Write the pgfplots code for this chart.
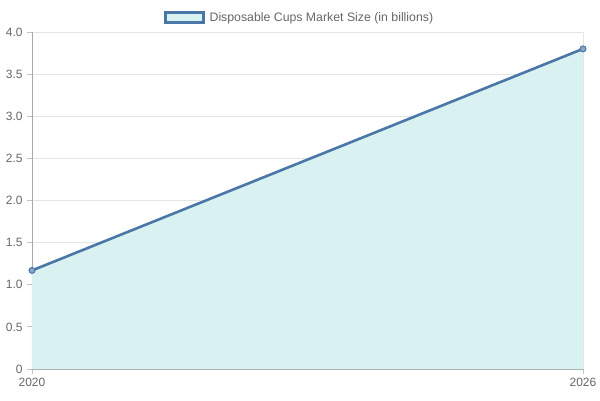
\documentclass[border=0pt]{standalone}
\usepackage{pgfplots}
\pgfplotsset{compat=1.18}
\usepackage{fontspec}
\setmainfont{Liberation Sans}
\definecolor{linecol}{HTML}{4A76A8}
\definecolor{fillcol}{HTML}{D9F1F1}
\definecolor{gridcol}{HTML}{E5E5E5}
\definecolor{axiscol}{HTML}{A8A8A8}
\definecolor{txtcol}{HTML}{666666}
\begin{document}
\begin{tikzpicture}
 \useasboundingbox (-32pt,-31pt) rectangle (568pt,369pt);
 \begin{axis}[
  at={(0,0)}, anchor=south west,
  scale only axis,
  width=551pt, height=337pt,
  xmin=2020, xmax=2026,
  ymin=0, ymax=4,
  xtick={2020,2026},
  xticklabels={2020,2026},
  ytick={0,0.5,1,1.5,2,2.5,3,3.5,4},
  yticklabels={0,0.5,1.0,1.5,2.0,2.5,3.0,3.5,4.0},
  axis x line*=bottom,
  axis y line*=left,
  axis line style={axiscol, line width=0.8pt},
  grid=major,
  major grid style={gridcol, line width=0.8pt},
  tick align=outside,
  major tick length=5pt,
  tick style={axiscol!70, line width=0.8pt},
  ticklabel style={font=\fontsize{12pt}{14pt}\selectfont, text=txtcol},
  xticklabel style={yshift=-1pt},
  yticklabel style={xshift=-1pt},
  /pgf/number format/assume math mode=true,
  clip=false,
  legend style={at={(0.5,1)}, anchor=south, yshift=5pt, xshift=-8pt, draw=none, fill=none,
   font=\fontsize{12.3pt}{14pt}\selectfont, text=txtcol},
  legend cell align=left,
  legend image code/.code={
   \draw[fill=fillcol, draw=linecol, line width=3pt] (0pt,-5pt) rectangle (38pt,5pt);
   \path (41pt,0pt);
  },
 ]
  \addplot[fill=fillcol, draw=none, forget plot] coordinates {
   (2020, 1.17)
   (2026, 3.80)} \closedcycle;
  \addplot[linecol, line width=2.6pt, mark=*, mark size=3pt,
   mark options={fill=linecol!65, draw=linecol, line width=1pt}] coordinates {
   (2020, 1.17)
   (2026, 3.80)};
  \legend{Disposable Cups Market Size (in billions)}
 \end{axis}
\end{tikzpicture}
\end{document}
